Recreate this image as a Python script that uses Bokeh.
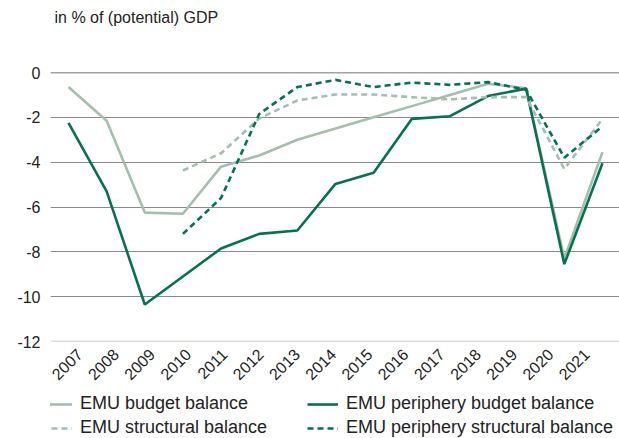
from bokeh.plotting import figure
from bokeh.models import Range1d, FixedTicker, Legend, LegendItem, Span, LinearAxis
from bokeh.layouts import column
from bokeh.embed import file_html
from bokeh.resources import INLINE
import math

years = list(range(2007, 2022))
tick_labels = [str(y) for y in years]
y_ticks = [0, -2, -4, -6, -8, -10, -12]
y_tick_labels = ["0", "-2", "-4", "-6", "-8", "-10", "-12"]

emu_budget = [-0.65, -2.15, -6.25, -6.3, -4.2, -3.7, -3.0, -2.5, -2.0, -1.5, -1.0, -0.5, -0.7, -8.3, -3.55]
emu_periph_budget = [-2.25, -5.3, -10.35, -9.1, -7.85, -7.2, -7.05, -4.97, -4.47, -2.07, -1.95, -1.05, -0.72, -8.55, -4.05]
struct_years = list(range(2010, 2022))
emu_struct = [-4.37, -3.6, -2.05, -1.25, -0.98, -0.98, -1.1, -1.2, -1.1, -1.1, -4.3, -2.07]
emu_periph_struct = [-7.2, -5.6, -1.85, -0.65, -0.33, -0.65, -0.45, -0.55, -0.43, -0.77, -3.8, -2.4]
series_names = ["EMU budget balance", "EMU periphery budget balance",
                "EMU structural balance", "EMU periphery structural balance"]
title_text = "in % of (potential) GDP"

DARK = "#07704f"
LIGHT = "#a3bfae"
FONT = "Liberation Sans"
styles = [(LIGHT, "solid"), (DARK, "solid"), (LIGHT, "6 4"), (DARK, "6 4")]
data = [(years, emu_budget), (years, emu_periph_budget),
        (struct_years, emu_struct), (struct_years, emu_periph_struct)]


def blank(fig):
    fig.outline_line_color = None
    fig.xgrid.grid_line_color = None
    fig.ygrid.grid_line_color = None
    fig.border_fill_color = "white"


# title figure
p0 = figure(width=619, height=50, output_backend="svg", toolbar_location=None,
            x_range=Range1d(0, 1), y_range=Range1d(0, 1),
            x_axis_location=None, y_axis_location=None,
            min_border_left=0, min_border_right=0, min_border_top=0, min_border_bottom=0)
blank(p0)
p0.title.text = title_text
p0.title.text_font = FONT
p0.title.text_font_size = "16px"
p0.title.text_font_style = "normal"
p0.title.text_color = "#222222"
p0.title.align = "left"
p0.title.vertical_align = "top"
p0.title.offset = 4
p0.title.standoff = 16

# chart figure
p = figure(width=619, height=341, output_backend="svg", toolbar_location=None,
           x_range=Range1d(2006.528, 2021.447), y_range=Range1d(-12, 0),
           x_axis_location=None,
           min_border_left=50, min_border_right=0, min_border_top=22, min_border_bottom=50)
p.extra_x_ranges = {"labels": Range1d(2006.199, 2021.913)}
blank(p)
p.background_fill_color = None

for (xs, ys), (col, dash) in zip(data, styles):
    p.line(xs, ys, line_color=col, line_width=2.6, line_dash=dash)

xax = LinearAxis(x_range_name="labels", ticker=FixedTicker(ticks=years),
                 major_label_overrides={y: l for y, l in zip(years, tick_labels)},
                 major_label_orientation=math.pi / 4)
p.add_layout(xax, "below")

p.yaxis.ticker = FixedTicker(ticks=y_ticks)
p.yaxis.major_label_overrides = {t: l for t, l in zip(y_ticks, y_tick_labels)}
for ax in (xax, p.yaxis[0]):
    ax.axis_line_color = None
    ax.major_tick_line_color = None
    ax.minor_tick_line_color = None
    ax.major_tick_out = 0
    ax.major_tick_in = 0
    ax.minor_tick_out = 0
    ax.major_label_text_font = FONT
    ax.major_label_text_font_size = "16px"
    ax.major_label_text_color = "#222222"
p.yaxis.major_label_standoff = 10
xax.major_label_standoff = 10

p.ygrid.grid_line_color = "#8a8a8a"
p.ygrid.grid_line_width = 1.2
p.ygrid.ticker = FixedTicker(ticks=[-2, -4, -6, -8, -10])
p.add_layout(Span(location=0, dimension="width", line_color="#444444", line_width=1.5))
p.add_layout(Span(location=-12, dimension="width", line_color="#bbbbbb", line_width=1.5))

# legend figure (series drawn outside its visible range, only the legend shows)
p2 = figure(width=619, height=47, output_backend="svg", toolbar_location=None,
            x_range=Range1d(0, 1), y_range=Range1d(0, 1),
            x_axis_location=None, y_axis_location=None,
            min_border_left=0, min_border_right=0, min_border_top=0, min_border_bottom=0)
blank(p2)
items = []
for name, (xs, ys), (col, dash) in zip(series_names, data, styles):
    r = p2.line(xs, ys, line_color=col, line_width=2.6, line_dash=dash)
    items.append(LegendItem(label=name, renderers=[r]))

legend = Legend(items=items, orientation="horizontal", nrows=2)
legend.label_text_font = FONT
legend.label_text_font_size = "18px"
legend.label_text_color = "#222222"
legend.glyph_width = 31
legend.glyph_height = 20
legend.label_height = 20
legend.label_width = 224
legend.label_standoff = 8
legend.spacing = 3
legend.padding = 0
legend.margin = 0
legend.border_line_color = None
legend.background_fill_color = None
legend.location = (-9, 0)
p2.add_layout(legend)

layout = column(p0, p, p2, spacing=0)
open("out.html", "w").write(file_html(layout, INLINE))
